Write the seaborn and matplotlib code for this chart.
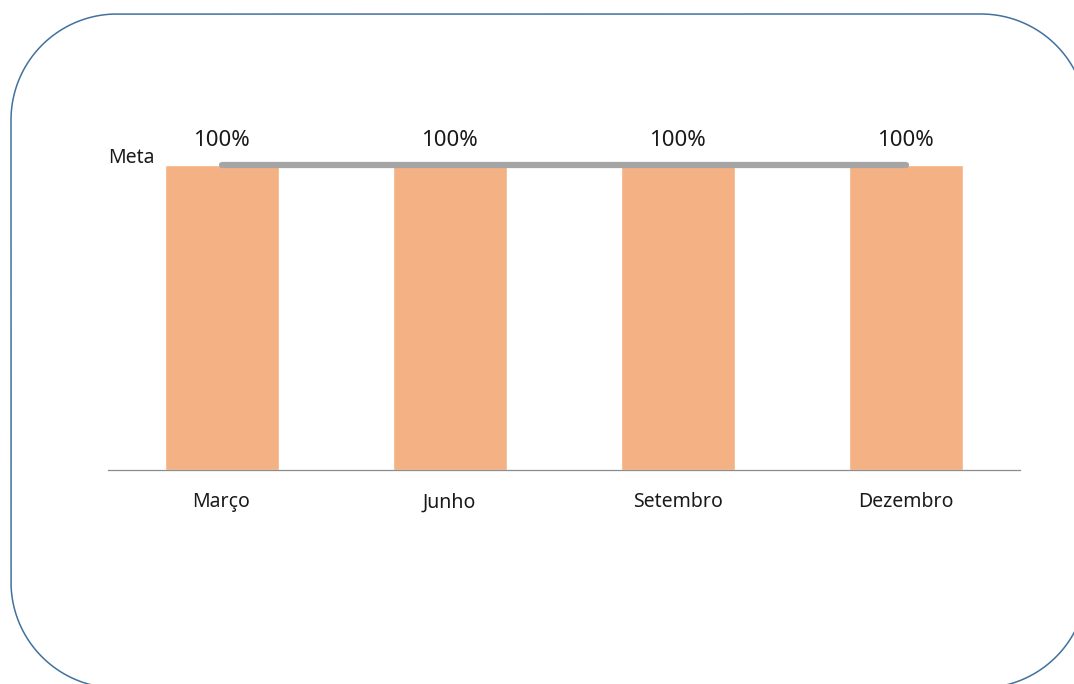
import pandas as pd
import numpy as np
import matplotlib
matplotlib.use("Agg")
import matplotlib.pyplot as plt
import seaborn as sns
from matplotlib.path import Path
from matplotlib.patches import PathPatch
from matplotlib.transforms import IdentityTransform

# Dados do gráfico
meses = ["Março", "Junho", "Setembro", "Dezembro"]
realizado = [100, 100, 100, 100]
meta = [100, 100, 100, 100]
rotulos = ["100%", "100%", "100%", "100%"]

cor_barra = "#F4B183"
cor_meta = "#A5A5A5"
cor_borda = "#41719C"

sns.set_theme(style="white")
plt.rcParams["font.family"] = ["Noto Sans", "DejaVu Sans"]

df = pd.DataFrame({"Mes": meses, "Realizado": realizado, "Meta": meta})

W, H = 1074, 684
fig = plt.figure(figsize=(W / 100, H / 100), dpi=100)
fig.patch.set_facecolor("white")


# Moldura arredondada (em pixels, origem embaixo à esquerda)
def moldura(x0, y0, x1, y1, r, n=40):
    pts = []
    cantos = [(x1 - r, y1 - r, 0), (x0 + r, y1 - r, 90),
              (x0 + r, y0 + r, 180), (x1 - r, y0 + r, 270)]
    for cx, cy, a0 in cantos:
        t = np.radians(np.linspace(a0, a0 + 90, n))
        pts += list(zip(cx + r * np.cos(t), cy + r * np.sin(t)))
    pts.append(pts[0])
    return Path(pts)


borda = PathPatch(moldura(11, -4, 1087, 670, 106),
                  transform=IdentityTransform(), facecolor="none",
                  edgecolor=cor_borda, linewidth=1.1, clip_on=False)
fig.add_artist(borda)

y_top = 110
base_px, top_px = 470, 470 - 305 * y_top / 100
ax = fig.add_axes([107.5 / W, (H - base_px) / H,
                   912 / W, (base_px - top_px) / H])
ax.set_facecolor("none")

sns.barplot(data=df, x="Mes", y="Realizado", color=cor_barra,
            width=0.5, saturation=1, ax=ax)

# Linha de meta
x = np.arange(len(meses))
ax.plot(x, df["Meta"], color=cor_meta, linewidth=4.5,
        solid_capstyle="round", zorder=3)

# Rótulos de valor
for xi, v, r in zip(x, df["Realizado"], rotulos):
    ax.annotate(r, (xi, v), xytext=(0, 17.5), textcoords="offset points",
                ha="center", va="center", fontsize=16, color="#1a1a1a")

ax.annotate("Meta", (0, meta[0]), xycoords=("axes fraction", "data"),
            xytext=(34, 5), textcoords="offset points",
            ha="right", va="center", fontsize=14, color="#1a1a1a")

ax.set_xlim(-0.5, len(meses) - 0.5)
ax.set_ylim(0, y_top)
ax.set_xlabel("")
ax.set_ylabel("")
ax.set_yticks([])
ax.tick_params(axis="x", length=0, pad=16, labelsize=14, labelcolor="#1a1a1a")
for s in ["top", "left", "right"]:
    ax.spines[s].set_visible(False)
ax.spines["bottom"].set_color("#8C8C8C")
ax.spines["bottom"].set_linewidth(0.9)

plt.savefig("out.png", dpi=100)
